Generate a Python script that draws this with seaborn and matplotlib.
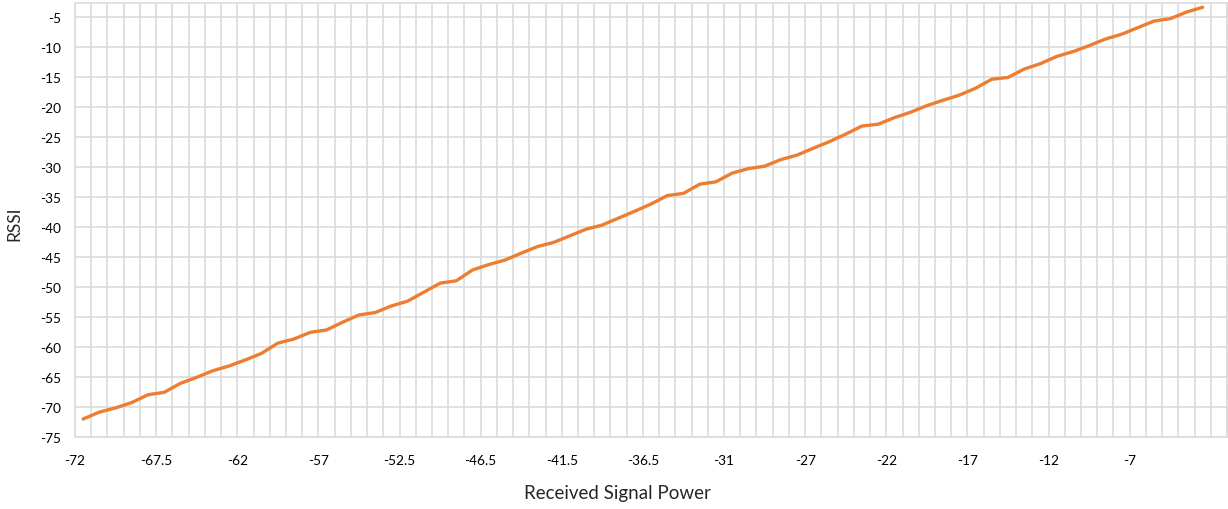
import numpy as np
import pandas as pd
import matplotlib
matplotlib.use("Agg")
import matplotlib.pyplot as plt
import seaborn as sns

# valores (RSSI por categoria de potência recebida)
rssi = [-71.95, -70.8, -70.1, -69.2, -67.9, -67.5, -66.0, -65.0, -63.9, -63.1,
        -62.1, -61.0, -59.3, -58.6, -57.5, -57.1, -55.8, -54.6, -54.2, -53.1,
        -52.3, -50.8, -49.3, -48.9, -47.1, -46.2, -45.45, -44.3, -43.2, -42.5,
        -41.4, -40.3, -39.6, -38.45, -37.3, -36.1, -34.7, -34.33, -32.8, -32.4,
        -30.95, -30.2, -29.8, -28.7, -27.95, -26.8, -25.7, -24.45, -23.1, -22.8,
        -21.7, -20.8, -19.7, -18.8, -17.95, -16.8, -15.3, -15.0, -13.6, -12.7,
        -11.5, -10.7, -9.7, -8.6, -7.8, -6.7, -5.6, -5.2, -4.1, -3.3]
n_categorias = 71  # a última categoria está vazia
rotulos_x = ["-72", "-67.5", "-62", "-57", "-52.5", "-46.5", "-41.5", "-36.5",
             "-31", "-27", "-22", "-17", "-12", "-7"]
ticks_y = list(range(-75, 0, 5))

df = pd.DataFrame({"categoria": np.arange(len(rssi)), "rssi": rssi})

sns.set_style("white")
plt.rcParams["font.family"] = ["Lato", "DejaVu Sans"]

cinza = "#d9d9d9"
fig = plt.figure(figsize=(12.28, 5.10), dpi=100)
ax = fig.add_axes([0.0611, 0.1406, 0.9381, 0.8514])

sns.lineplot(data=df, x="categoria", y="rssi", color="#ED7D31", linewidth=2.4, ax=ax)

ax.set_xlim(-0.5, n_categorias - 0.5)
ax.set_ylim(-75, -2.6)

# linhas de grade nas fronteiras das categorias
ax.set_xticks(np.arange(-0.5, n_categorias, 1), minor=True)
ax.set_xticks(np.arange(0, len(rotulos_x) * 5, 5) - 0.5)
ax.set_xticklabels(rotulos_x)
ax.set_yticks(ticks_y)
ax.set_yticklabels([str(v) for v in ticks_y])
ax.grid(which="both", axis="x", color=cinza, linewidth=1.1)
ax.grid(which="major", axis="y", color=cinza, linewidth=1.1)
ax.tick_params(which="both", length=0)
ax.tick_params(axis="x", pad=12, labelsize=9.8, colors="#000000")
ax.tick_params(axis="y", pad=10, labelsize=9.8, colors="#000000")
for s in ax.spines.values():
    s.set_color(cinza)
    s.set_linewidth(1.1)

ax.set_xlabel("Received Signal Power", fontsize=13.5)
ax.xaxis.set_label_coords(0.4705, -0.108)
ax.set_ylabel("RSSI", fontsize=12.5)
ax.yaxis.set_label_coords(-0.046, 0.493)

fig.savefig("out.png", dpi=100)
